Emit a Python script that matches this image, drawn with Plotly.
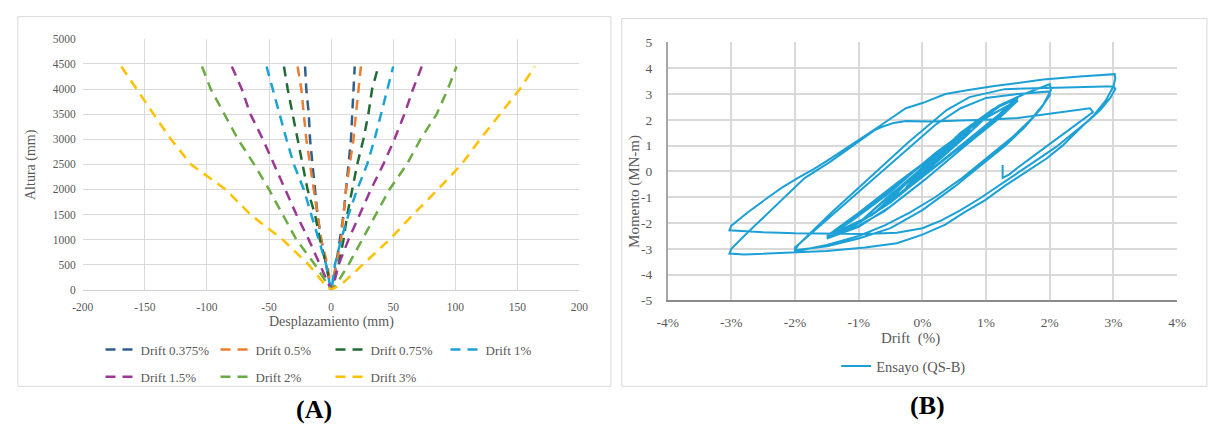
import plotly.graph_objects as go

W, H = 1212, 432

# ---------------- (A) Deformed shape of the wall for each drift level ----------------
alturas = [4450, 4000, 3500, 3000, 2500, 2000, 1500, 1000, 500, 100, 0]

d0375_izq = [-21, -20, -18, -17, -15, -13, -11, -8, -4, -1, 0]
d0375_der = [19, 18, 17, 16, 14, 12, 10, 7, 4, 1, 0]
d05_izq = [-27, -24, -22, -20, -17, -14, -11, -8, -3, -1, 0]
d05_der = [24, 22, 20, 18, 15, 12, 10, 8, 4, 1, 0]
d075_izq = [-38, -35, -31, -27, -23, -19, -13, -9, -4, -1, 0]
d075_der = [38, 33, 30, 26, 21, 17, 13, 10, 6, 1, 0]
d1_izq = [-52, -47, -42, -36, -30, -22, -16, -10, -4, -1, 0]
d1_der = [50, 45, 40, 35, 29, 21, 14, 8, 3, 1, 0]
d15_izq = [-80, -72, -65, -55, -46, -37, -28, -18, -9, -2, 0]
d15_der = [73, 66, 59, 51, 42, 32, 23, 14, 6, 2, 0]
d2_izq = [-104, -97, -86, -75, -62, -50, -39, -28, -13, -3, 0]
d2_der = [101, 94, 85, 72, 61, 47, 36, 25, 14, 4, 0]
d3_izq = [-169, -157, -143, -129, -113, -85, -65, -39, -18, -5, 0]
d3_der = [164, 152, 136, 120, 105, 86, 66, 47, 25, 8, 0]

perfiles = [
    ("Drift 0.375%", d0375_izq, d0375_der, "#2F5F8A", "legend"),
    ("Drift 0.5%", d05_izq, d05_der, "#ED7D31", "legend"),
    ("Drift 0.75%", d075_izq, d075_der, "#236B35", "legend"),
    ("Drift 1%", d1_izq, d1_der, "#1BA3D6", "legend"),
    ("Drift 1.5%", d15_izq, d15_der, "#9C3894", "legend2"),
    ("Drift 2%", d2_izq, d2_der, "#6AAB44", "legend2"),
    ("Drift 3%", d3_izq, d3_der, "#FFC000", "legend2"),
]

xa_vals = [-200, -150, -100, -50, 0, 50, 100, 150, 200]
xa_text = ["-200", "-150", "-100", "-50", "0", "50", "100", "150", "200"]
ya_vals = [0, 500, 1000, 1500, 2000, 2500, 3000, 3500, 4000, 4500, 5000]

# ---------------- (B) Moment - drift hysteresis (test QS-B) ----------------
c025_d = [0, 0.12, 0.25, 0.12, -0.05, -0.25, -0.1, 0.1, 0.25, 0.1, -0.1, -0.25, -0.08]
c025_m = [0, 0.3, 0.6, 0.3, -0.15, -0.6, -0.25, 0.2, 0.6, 0.2, -0.3, -0.6, -0.15]
c05_d = [0.2, 0.5, 0.3, 0.0, -0.3, -0.5, -0.3, 0.0, 0.3, 0.5, 0.28, 0.0, -0.3, -0.5, -0.25]
c05_m = [0.45, 1.1, 0.6, -0.1, -0.75, -1.1, -0.55, 0.1, 0.75, 1.1, 0.55, -0.15, -0.8, -1.1, -0.45]
c075_d = [0.1, 0.45, 0.75, 0.5, 0.1, -0.35, -0.75, -0.45, 0.0, 0.4, 0.75, 0.45, 0.0, -0.4, -0.75, -0.4]
c075_m = [0.3, 1.05, 1.65, 1.05, 0.1, -0.85, -1.6, -0.9, 0.1, 0.95, 1.6, 0.95, -0.1, -0.95, -1.6, -0.8]
c1_d = [0.0, 0.5, 1.0, 0.7, 0.2, -0.4, -1.0, -0.6, 0.0, 0.5, 1.0, 0.65, 0.1, -0.45, -1.0, -0.55]
c1_m = [0.15, 1.2, 2.15, 1.4, 0.3, -1.0, -2.0, -1.15, 0.15, 1.25, 2.1, 1.3, 0.1, -1.1, -2.0, -1.0]
c15_d = [0.0, 0.6, 1.1, 1.5, 1.2, 0.7, 0.1, -0.5, -1.0, -1.5, -1.1, -0.5, 0.1, 0.7, 1.2, 1.5,
         1.25, 0.7, 0.1, -0.5, -1.0, -1.5, -1.05, -0.4, 0.2, 0.8, 1.5, 1.2, 0.6, 0.0, -0.6,
         -1.0, -1.5, -1.0, -0.4, 0.3, 0.9, 1.45, 1.15, 0.5, -0.2, -0.8, -1.45, -0.9, -0.3]
c15_m = [0.1, 1.5, 2.4, 2.9, 2.2, 1.2, 0.0, -1.2, -2.0, -2.55, -1.9, -0.8, 0.5, 1.6, 2.5, 2.85,
         2.2, 1.05, -0.2, -1.35, -2.15, -2.6, -1.75, -0.55, 0.7, 1.8, 2.75, 2.05, 0.85, -0.4, -1.55,
         -2.1, -2.5, -1.6, -0.45, 0.85, 1.95, 2.7, 2.0, 0.75, -0.6, -1.7, -2.45, -1.45, -0.3]
c2_d = [0.3, 0.8, 1.2, 1.6, 2.0, 2.02, 1.9, 1.7, 1.4, 1.0, 0.6, 0.2, -0.2, -0.6, -1.0, -1.5, -2.0,
        -2.0, -1.7, -1.4, -1.0, -0.6, -0.2, 0.2, 0.6, 1.0, 1.5, 2.0,
        2.0, 1.85, 1.6, 1.3, 0.9, 0.5, 0.0, -0.5, -1.0, -1.5, -2.0,
        -1.95, -1.43, -0.83, -0.22, 0.38, 0.74, 1.29, 2.0, 2.4, 3.0]
c2_m = [0.8, 1.85, 2.55, 3.0, 3.38, 3.15, 2.6, 2.0, 1.3, 0.5, -0.3, -1.0, -1.6, -2.1, -2.5, -2.85, -3.1,
        -2.95, -2.3, -1.65, -0.8, 0.1, 0.95, 1.8, 2.45, 2.85, 3.0, 3.1,
        2.95, 2.4, 1.7, 1.0, 0.2, -0.6, -1.5, -2.2, -2.6, -2.9, -3.05,
        -2.85, -1.6, -0.24, 1.13, 2.38, 2.88, 3.19, 3.22, 3.26, 3.3]
c3_d = [3.03, 2.95, 2.8, 2.6, 2.35, 2.1, 1.8, 1.5, 1.2, 0.9, 0.6, 0.3, 0.0, -0.4, -0.9, -1.4, -2.0,
        -2.5, -2.85, -3.03,
        -3.0, -2.75, -2.42, -2.2, -1.96, -1.7, -1.45, -1.1, -0.67, -0.26, 0.0, 0.36, 0.7, 1.13,
        1.5, 1.9, 2.47, 2.9, 3.02,
        3.03, 3.0, 2.88, 2.7, 2.45, 2.2, 1.95, 1.64, 1.3, 0.98, 0.65, 0.36, 0.0, -0.4, -0.9, -1.5,
        -2.0, -2.5, -2.8, -3.03,
        -3.0, -2.8, -2.5, -2.16, -1.85, -1.45, -1.03, -0.75, -0.64, -0.45, -0.26, 0.15, 0.6, 1.0,
        1.5, 2.0, 2.3, 2.63]
c3_m = [3.2, 2.85, 2.4, 1.95, 1.45, 0.95, 0.45, -0.05, -0.55, -1.05, -1.5, -1.9, -2.2, -2.38, -2.42,
        -2.42, -2.4, -2.36, -2.32, -2.28,
        -2.1, -1.6, -1.0, -0.62, -0.26, 0.1, 0.49, 1.05, 1.76, 2.45, 2.65, 3.0, 3.15, 3.31,
        3.42, 3.56, 3.68, 3.73, 3.77,
        3.6, 3.3, 2.75, 2.2, 1.6, 1.0, 0.5, 0.0, -0.55, -1.12, -1.6, -2.06, -2.45, -2.78, -2.95,
        -3.08, -3.13, -3.2, -3.22, -3.18,
        -3.0, -2.5, -1.8, -1.0, -0.26, 0.37, 1.12, 1.6, 1.72, 1.88, 1.95, 1.94, 1.97, 2.0,
        2.07, 2.25, 2.35, 2.45]
final_d = [2.68, 2.4, 2.1, 1.8, 1.5, 1.36, 1.26, 1.26]
final_m = [2.3, 1.8, 1.25, 0.7, 0.15, -0.12, -0.25, 0.25]

deriva = c025_d + c05_d + c075_d + c1_d + c15_d + c2_d + c3_d + final_d
momento = c025_m + c05_m + c075_m + c1_m + c15_m + c2_m + c3_m + final_m

xb_vals = [-4, -3, -2, -1, 0, 1, 2, 3, 4]
xb_text = ["-4%", "-3%", "-2%", "-1%", "0%", "1%", "2%", "3%", "4%"]
yb_vals = [-5, -4, -3, -2, -1, 0, 1, 2, 3, 4, 5]
yb_text = ["-5", "-4", "-3", "-2", "-1", "0", "1", "2", "3", "4", "5"]

SERIF = "Liberation Serif, Times New Roman, serif"
GRIS = "#595959"
GRID = "#D9D9D9"

fig = go.Figure()

for nombre, izq, der, color, leg in perfiles:
    xs = izq + der[::-1][1:]
    ys = alturas + alturas[::-1][1:]
    fig.add_trace(go.Scatter(
        x=xs, y=ys, mode="lines", name=nombre, legend=leg,
        line=dict(color=color, width=2.5, dash="10px,7px"),
        xaxis="x", yaxis="y",
    ))

fig.add_trace(go.Scatter(
    x=deriva, y=momento, mode="lines", name="Ensayo (QS-B)", legend="legend3",
    line=dict(color="#1CA0D6", width=2),
    xaxis="x2", yaxis="y2",
))


def px_x(p):
    return p / W


def px_y(p):
    return (H - p) / H


def etiqueta(texto, x, y, size, color=GRIS, angle=0):
    return dict(text=texto, xref="paper", yref="paper", x=px_x(x), y=px_y(y),
                xanchor="center", yanchor="middle", showarrow=False, textangle=angle,
                font=dict(family=SERIF, size=size, color=color))


fig.update_layout(
    width=W, height=H,
    margin=dict(l=0, r=0, t=0, b=0),
    paper_bgcolor="white", plot_bgcolor="white",
    font=dict(family=SERIF, color=GRIS),
    xaxis=dict(
        domain=[px_x(73), px_x(578)], range=[-200, 200], anchor="y",
        tickvals=xa_vals, ticktext=xa_text,
        showgrid=True, gridcolor=GRID, gridwidth=1, zeroline=False,
        showline=True, linecolor="#CFCFCF", linewidth=1,
        ticks="", ticklabelstandoff=6,
        tickfont=dict(family=SERIF, size=11.5, color=GRIS),
    ),
    yaxis=dict(
        domain=[px_y(293), px_y(33)], range=[0, 5000], anchor="x",
        tickvals=ya_vals,
        showgrid=True, gridcolor=GRID, gridwidth=1, zeroline=False,
        showline=False, ticks="", ticklabelstandoff=6,
        tickfont=dict(family=SERIF, size=11.5, color=GRIS),
    ),
    xaxis2=dict(
        domain=[px_x(667.7), px_x(1185.7)], range=[-4, 4], anchor="y2",
        tickvals=xb_vals, ticktext=xb_text,
        showgrid=True, gridcolor=GRID, gridwidth=1.5, zeroline=False,
        showline=True, linecolor="#8C8C8C", linewidth=1.5,
        ticks="", ticklabelstandoff=9,
        tickfont=dict(family=SERIF, size=13.5, color=GRIS),
    ),
    yaxis2=dict(
        domain=[px_y(304), px_y(36.7)], range=[-5, 5], anchor="x2",
        tickvals=yb_vals, ticktext=yb_text,
        showgrid=True, gridcolor=GRID, gridwidth=1.5, zeroline=False,
        showline=True, linecolor="#A6A6A6", linewidth=1.5,
        ticks="", ticklabelstandoff=11,
        tickfont=dict(family=SERIF, size=13.5, color=GRIS),
    ),
    legend=dict(
        orientation="h", x=px_x(91), y=px_y(355), xanchor="left", yanchor="middle",
        entrywidth=70, entrywidthmode="pixels", itemwidth=30,
        font=dict(family=SERIF, size=13, color=GRIS), bgcolor="rgba(0,0,0,0)",
    ),
    legend2=dict(
        orientation="h", x=px_x(91), y=px_y(383), xanchor="left", yanchor="middle",
        entrywidth=70, entrywidthmode="pixels", itemwidth=30,
        font=dict(family=SERIF, size=13, color=GRIS), bgcolor="rgba(0,0,0,0)",
    ),
    legend3=dict(
        orientation="h", x=px_x(839), y=px_y(372), xanchor="left", yanchor="middle",
        itemwidth=30,
        font=dict(family=SERIF, size=14.5, color=GRIS), bgcolor="rgba(0,0,0,0)",
    ),
    shapes=[
        dict(type="rect", xref="paper", yref="paper",
             x0=px_x(7), x1=px_x(610), y0=px_y(393), y1=px_y(10),
             line=dict(color=GRID, width=1), fillcolor="rgba(0,0,0,0)", layer="below"),
        dict(type="rect", xref="paper", yref="paper",
             x0=px_x(621), x1=px_x(1216), y0=px_y(393), y1=px_y(12),
             line=dict(color=GRID, width=1), fillcolor="rgba(0,0,0,0)", layer="below"),
    ],
    annotations=[
        etiqueta("Desplazamiento (mm)", 326, 326, 14),
        etiqueta("Altura (mm)", 21, 163, 14, angle=-90),
        etiqueta("Drift  (%)", 915, 343, 15),
        etiqueta("Momento (MN-m)", 634, 191, 15, angle=-90),
        etiqueta("<b>(A)</b>", 308, 417, 26, color="black"),
        etiqueta("<b>(B)</b>", 932, 413, 26, color="black"),
    ],
)

fig.write_html("out.html")
